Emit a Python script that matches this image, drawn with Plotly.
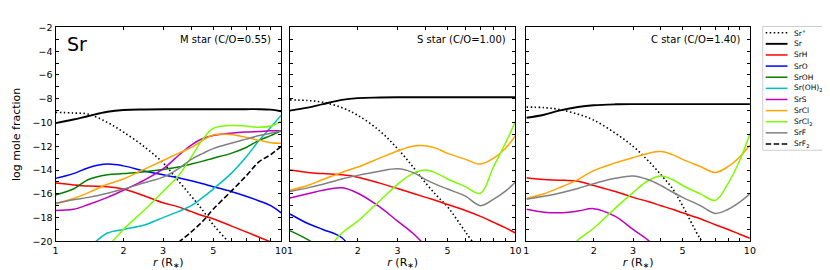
import plotly.graph_objects as go

# ---------------- data ----------------
R = [1, 1.2, 1.4, 1.7, 2, 2.5, 3, 3.5, 4, 4.5, 5, 6, 7, 8, 9, 10]
N = None

# M star (C/O=0.55)
M_SRP = [-9.15, -9.2, -9.3, -10.0, -10.8, -12.1, -13.4, -14.9, -16.2, -17.4, -18.6, -20.3, -22.0, N, N, N]
M_SR = [-10.05, -9.75, -9.45, -9.1, -8.95, -8.9, -8.88, -8.88, -8.88, -8.88, -8.88, -8.88, -8.88, -8.88, -8.92, -9.05]
M_SRH = [-15.1, -15.25, -15.35, -15.4, -15.6, -16.2, -16.75, -17.1, -17.5, -17.85, -18.1, -18.7, -19.2, -19.65, -20.05, -20.4]
M_SRO = [-14.7, -14.3, -13.8, -13.5, -13.65, -14.1, -14.4, -14.65, -14.9, -15.15, -15.4, -15.8, -16.2, -16.6, -17.0, -17.6]
M_SROH = [-16.1, -15.6, -14.8, -14.4, -14.3, -14.15, -13.95, -13.75, -13.5, -13.25, -13.0, -12.6, -12.1, -11.5, -11.1, -10.7]
M_SROH2 = [N, N, -20.6, -19.3, -19.0, -18.6, -18.0, -17.5, -17.0, -16.3, -15.6, -14.3, -12.9, -11.5, -10.4, -9.4]
M_SRS = [-17.4, -17.3, -16.9, -16.3, -15.7, -14.8, -13.9, -12.8, -11.9, -11.35, -11.1, -10.9, -10.8, -10.75, -10.7, -10.7]
M_SRCL = [-16.85, -16.4, -15.9, -15.2, -14.75, -13.9, -13.2, -12.6, -12.1, -11.5, -11.05, -11.0, -11.25, -11.5, -11.7, -11.75]
M_SRCL2 = [N, N, N, -20.5, -19.0, -17.3, -15.8, -14.5, -12.9, -11.4, -10.5, -10.25, -10.3, -10.4, -10.3, -9.9]
M_SRF = [-16.8, -16.5, -16.3, -15.95, -15.6, -15.05, -14.6, -13.9, -13.1, -12.6, -12.2, -11.75, -11.4, -11.1, -10.9, -10.7]
M_SRF2 = [N, N, N, N, N, N, N, -20.1, -19.2, -18.3, -17.3, -15.8, -14.5, -13.3, -12.7, -12.0]

# S star (C/O=1.00)
S_SRP = [-8.1, -8.15, -8.3, -8.75, -9.4, -10.7, -12.2, -13.7, -15.1, -16.2, -17.1, -19.2, -21.0, N, N, N]
S_SR = [-9.0, -8.75, -8.45, -8.1, -7.95, -7.9, -7.88, -7.88, -7.88, -7.88, -7.88, -7.88, -7.88, -7.88, -7.88, -7.88]
S_SRH = [-14.0, -14.2, -14.3, -14.4, -14.6, -15.1, -15.55, -15.95, -16.3, -16.6, -16.9, -17.4, -17.9, -18.4, -18.85, -19.3]
S_SRO = [-17.7, -18.5, -19.0, -19.7, -21.5, N, N, N, N, N, N, N, N, N, N, N]
S_SROH = [-19.1, -19.85, -20.6, N, N, N, N, N, N, N, N, N, N, N, N, N]
S_SROH2 = [N] * 16
S_SRS = [-16.35, -16.0, -15.7, -15.5, -15.95, -17.1, -18.3, -19.3, -20.4, N, N, N, N, N, N, N]
S_SRCL = [-15.7, -15.3, -14.8, -14.2, -13.75, -13.0, -12.4, -12.0, -11.95, -12.2, -12.6, -13.1, -13.5, -13.0, -12.2, -11.1]
S_SRCL2 = [N, N, -21.2, -19.3, -18.3, -16.6, -15.2, -14.3, -14.0, -14.3, -14.75, -15.4, -15.95, -13.7, -11.8, -9.9]
S_SRF = [-15.8, -15.5, -15.2, -14.75, -14.45, -14.1, -13.9, -14.2, -14.8, -15.25, -15.6, -16.2, -17.0, -16.45, -15.8, -15.0]
S_SRF2 = [N] * 16

# C star (C/O=1.40)
C_SRP = [-8.7, -8.75, -8.9, -9.3, -9.8, -10.9, -12.0, -13.2, -14.4, -15.55, -17.0, -19.8, -21.5, N, N, N]
C_SR = [-9.6, -9.35, -9.0, -8.7, -8.55, -8.47, -8.45, -8.45, -8.45, -8.45, -8.45, -8.45, -8.45, -8.45, -8.45, -8.45]
C_SRH = [-14.65, -14.8, -14.85, -14.95, -15.3, -15.8, -16.3, -16.65, -17.0, -17.3, -17.6, -18.1, -18.6, -19.0, -19.4, -19.75]
C_SRO = [N] * 16
C_SROH = [N] * 16
C_SROH2 = [N] * 16
C_SRS = [-17.3, -17.55, -17.6, -17.45, -17.25, -17.9, -19.0, -19.9, -21.0, N, N, N, N, N, N, N]
C_SRCL = [-16.4, -16.0, -15.5, -14.8, -14.05, -13.4, -12.95, -12.6, -12.45, -12.7, -13.1, -13.7, -14.2, -13.7, -12.9, -11.9]
C_SRCL2 = [N, N, -21.5, -19.9, -18.9, -17.2, -15.9, -14.9, -14.5, -14.8, -15.3, -16.0, -16.55, -15.1, -13.2, -10.95]
C_SRF = [-16.45, -16.2, -15.95, -15.55, -15.15, -14.7, -14.5, -14.8, -15.3, -15.85, -16.3, -17.0, -17.65, -17.3, -16.7, -16.0]
C_SRF2 = [N] * 16

SPECIES = ["Sr<sup>+</sup>", "Sr", "SrH", "SrO", "SrOH", "Sr(OH)<sub>2</sub>",
           "SrS", "SrCl", "SrCl<sub>2</sub>", "SrF", "SrF<sub>2</sub>"]
PANEL_TITLES = ["M star (C/O=0.55)", "S star (C/O=1.00)", "C star (C/O=1.40)"]
X_TICKS = [1, 2, 3, 5, 10]
X_TICKTEXT = ["1", "2", "3", "5", "10"]
X_MINOR = [4, 6, 7, 8, 9]
Y_TICKS = list(range(-20, -1, 2))
Y_MINOR = list(range(-19, -2, 2))

PANELS = [
    [M_SRP, M_SR, M_SRH, M_SRO, M_SROH, M_SROH2, M_SRS, M_SRCL, M_SRCL2, M_SRF, M_SRF2],
    [S_SRP, S_SR, S_SRH, S_SRO, S_SROH, S_SROH2, S_SRS, S_SRCL, S_SRCL2, S_SRF, S_SRF2],
    [C_SRP, C_SR, C_SRH, C_SRO, C_SROH, C_SROH2, C_SRS, C_SRCL, C_SRCL2, C_SRF, C_SRF2],
]

# ---------------- styles ----------------
COLORS = ["black", "black", "#ff0000", "#0000ff", "#008000", "#00bfbf",
          "#bf00bf", "#ffa500", "#7cfc00", "#808080", "black"]
DASHES = ["1.5px,2.5px", "solid", "solid", "solid", "solid", "solid",
          "solid", "solid", "solid", "solid", "5.5px,2.5px"]
WIDTHS = [1.6, 1.9, 1.5, 1.5, 1.5, 1.5, 1.5, 1.5, 1.5, 1.5, 1.6]

W, H = 830, 270
FONT = "DejaVu Sans"


def px(x):
    return x / W


def py(y):
    return 1 - y / H


X_DOM = [(45, 273), (282, 510), (521, 747)]
Y_DOM = (py(237), py(14))

fig = go.Figure()
for p, series in enumerate(PANELS):
    xa = "x" if p == 0 else f"x{p + 1}"
    ya = "y" if p == 0 else f"y{p + 1}"
    for i, vals in enumerate(series):
        if all(v is None for v in vals):
            continue
        fig.add_trace(go.Scatter(
            x=R, y=vals, mode="lines", name=SPECIES[i], showlegend=False,
            xaxis=xa, yaxis=ya,
            line=dict(color=COLORS[i], dash=DASHES[i], width=WIDTHS[i],
                      shape="spline", smoothing=1.0),
        ))

axis_common = dict(showline=True, linecolor="black", linewidth=1, mirror="allticks",
                   ticks="inside", ticklen=3, tickcolor="black", showgrid=False,
                   zeroline=False, tickfont=dict(family=FONT, size=9.5, color="black"))
minor_common = dict(ticks="inside", ticklen=3, tickcolor="black", showgrid=False)

layout = dict(width=W, height=H, margin=dict(l=0, r=0, t=0, b=0),
              paper_bgcolor="white", plot_bgcolor="white",
              font=dict(family=FONT, color="black"))
for p in range(3):
    sx = "" if p == 0 else str(p + 1)
    layout[f"xaxis{sx}"] = dict(
        axis_common, type="log", range=[0, 1], domain=[px(X_DOM[p][0]), px(X_DOM[p][1])],
        anchor=f"y{sx}", tickmode="array", tickvals=X_TICKS, ticktext=X_TICKTEXT,
        minor=dict(minor_common, tickmode="array", tickvals=X_MINOR),
        title=dict(text="<i>r</i> (R<sub>∗</sub>)", font=dict(family=FONT, size=11), standoff=2),
    )
    yax = dict(
        axis_common, range=[-20, -2], domain=list(Y_DOM), anchor=f"x{sx}",
        tickmode="array", tickvals=Y_TICKS,
        ticktext=["−" + str(-v) for v in Y_TICKS],
        minor=dict(minor_common, tickmode="array", tickvals=Y_MINOR),
        showticklabels=(p == 0),
    )
    if p == 0:
        yax["title"] = dict(text="log mole fraction", font=dict(family=FONT, size=11), standoff=9)
    layout[f"yaxis{sx}"] = yax
fig.update_layout(**layout)

annotations = [dict(x=px(55), y=py(31), xref="paper", yref="paper", text="Sr",
                    showarrow=False, xanchor="left", yanchor="middle",
                    font=dict(family=FONT, size=19, color="black"))]
for p, t in enumerate(PANEL_TITLES):
    annotations.append(dict(x=px(X_DOM[p][1] - 8), y=py(27), xref="paper", yref="paper",
                            text=t, showarrow=False, xanchor="right", yanchor="middle",
                            font=dict(family=FONT, size=10, color="black")))

# compact legend (plotly's native legend cannot be this dense)
shapes = [dict(type="rect", xref="paper", yref="paper", x0=px(760), x1=px(823),
               y0=py(142), y1=py(13), line=dict(color="#cccccc", width=1), fillcolor="white")]
for i, name in enumerate(SPECIES):
    yy = 19.5 + 11.6 * i
    shapes.append(dict(type="line", xref="paper", yref="paper", x0=px(763), x1=px(785),
                       y0=py(yy), y1=py(yy),
                       line=dict(color=COLORS[i], width=WIDTHS[i], dash=DASHES[i])))
    annotations.append(dict(x=px(790), y=py(yy), xref="paper", yref="paper", text=name,
                            showarrow=False, xanchor="left", yanchor="middle",
                            font=dict(family=FONT, size=7.5, color="black")))

fig.update_layout(annotations=annotations, shapes=shapes)
fig.write_html("out.html")
